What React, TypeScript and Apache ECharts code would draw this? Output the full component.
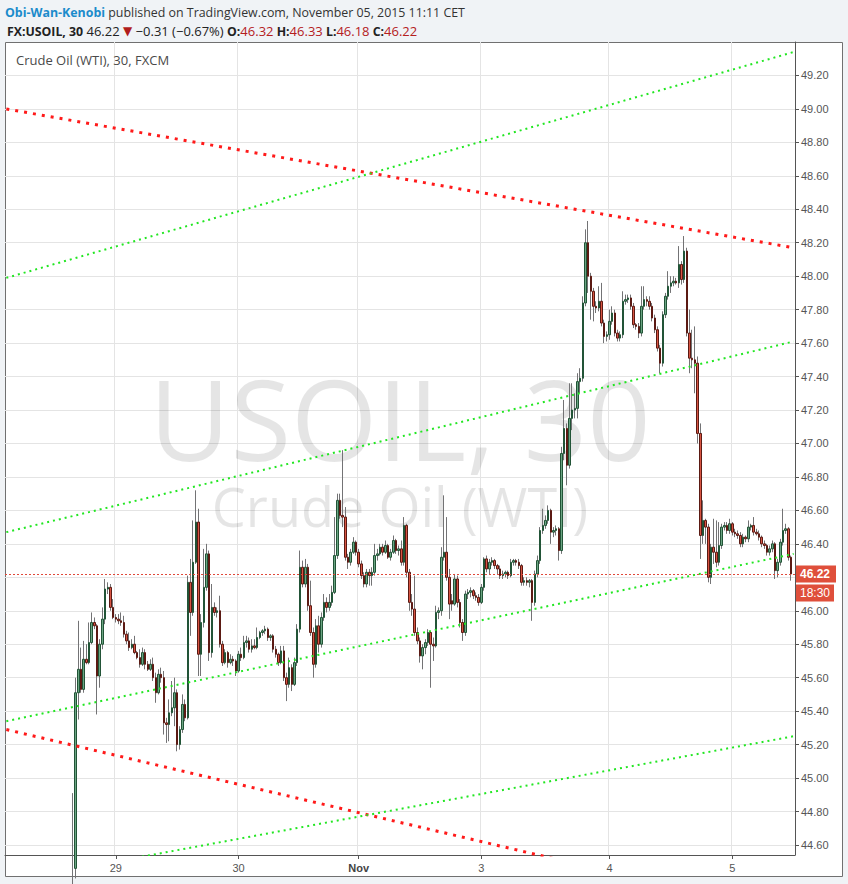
import React, { useEffect, useRef } from "react";
import * as echarts from "echarts";

// ---- Data: 30-minute candles, rows are [open, close, low, high] ----
const oct28 = [
  [44.50, 44.46, 44.30, 44.91], [44.46, 45.51, 44.40, 45.60], [45.51, 45.65, 45.35, 45.94], [45.65, 45.53, 45.51, 45.78],
  [45.53, 45.71, 45.51, 45.82], [45.71, 45.69, 45.68, 45.80], [45.69, 45.81, 45.68, 45.93], [45.81, 45.93, 45.80, 45.99],
  [45.93, 45.91, 45.89, 45.96], [45.91, 45.61, 45.38, 45.92], [45.61, 45.80, 45.54, 45.83], [45.80, 45.95, 45.77, 46.02],
  [45.95, 46.13, 45.92, 46.19], [46.13, 46.14, 46.10, 46.17], [46.14, 46.02, 46.00, 46.16], [46.02, 45.96, 45.95, 46.07],
];
const oct29 = [
  [45.96, 45.95, 45.93, 45.98], [45.95, 45.94, 45.92, 45.98], [45.94, 45.93, 45.91, 45.99], [45.93, 45.86, 45.84, 45.97],
  [45.86, 45.82, 45.80, 45.88], [45.82, 45.78, 45.76, 45.87], [45.78, 45.80, 45.77, 45.83], [45.80, 45.75, 45.74, 45.85],
  [45.75, 45.72, 45.71, 45.76], [45.72, 45.68, 45.66, 45.77], [45.68, 45.75, 45.67, 45.78], [45.75, 45.68, 45.65, 45.77],
  [45.68, 45.65, 45.64, 45.70], [45.65, 45.68, 45.64, 45.71], [45.68, 45.60, 45.58, 45.72], [45.60, 45.51, 45.45, 45.63],
  [45.51, 45.62, 45.50, 45.65], [45.62, 45.60, 45.57, 45.66], [45.60, 45.33, 45.26, 45.64], [45.33, 45.32, 45.21, 45.36],
  [45.32, 45.39, 45.22, 45.47], [45.39, 45.42, 45.37, 45.58], [45.42, 45.51, 45.31, 45.60], [45.51, 45.20, 45.16, 45.53],
  [45.20, 45.29, 45.17, 45.31], [45.29, 45.44, 45.27, 45.50], [45.44, 45.36, 45.34, 45.47], [45.36, 46.17, 45.35, 46.21],
  [46.17, 45.99, 45.85, 46.31], [45.99, 46.29, 45.97, 46.54], [46.29, 46.53, 46.28, 46.72], [46.53, 45.74, 45.61, 46.61],
  [45.74, 45.93, 45.61, 45.98], [45.93, 46.14, 45.90, 46.37], [46.14, 46.34, 46.12, 46.40], [46.34, 45.75, 45.70, 46.36],
  [45.75, 46.02, 45.72, 46.16], [46.02, 45.99, 45.97, 46.05], [45.99, 46.00, 45.96, 46.02], [46.00, 45.80, 45.78, 46.09],
  [45.80, 45.69, 45.67, 45.82], [45.69, 45.75, 45.68, 45.77], [45.75, 45.69, 45.66, 45.76], [45.69, 45.71, 45.68, 45.74],
  [45.71, 45.70, 45.67, 45.73], [45.70, 45.64, 45.61, 45.71],
];
const oct30 = [
  [45.64, 45.74, 45.63, 45.76], [45.74, 45.72, 45.70, 45.78], [45.72, 45.81, 45.71, 45.85], [45.81, 45.82, 45.78, 45.85],
  [45.82, 45.77, 45.75, 45.84], [45.77, 45.79, 45.75, 45.83], [45.79, 45.78, 45.77, 45.83], [45.78, 45.84, 45.77, 45.90],
  [45.84, 45.87, 45.83, 45.88], [45.87, 45.88, 45.85, 45.89], [45.88, 45.89, 45.86, 45.91], [45.89, 45.84, 45.82, 45.90],
  [45.84, 45.85, 45.82, 45.86], [45.85, 45.77, 45.75, 45.86], [45.77, 45.74, 45.72, 45.79], [45.74, 45.69, 45.67, 45.75],
  [45.69, 45.76, 45.68, 45.79], [45.76, 45.60, 45.58, 45.79], [45.60, 45.56, 45.46, 45.63], [45.56, 45.66, 45.54, 45.72],
  [45.66, 45.56, 45.52, 45.68], [45.56, 45.69, 45.55, 45.72], [45.69, 45.89, 45.67, 45.92], [45.89, 46.26, 45.87, 46.36],
  [46.26, 46.16, 46.14, 46.30], [46.16, 46.26, 46.14, 46.31], [46.26, 46.03, 46.00, 46.28], [46.03, 45.87, 45.85, 46.18],
  [45.87, 45.68, 45.60, 45.90], [45.68, 45.91, 45.66, 45.95], [45.91, 45.80, 45.75, 45.97], [45.80, 45.96, 45.78, 45.99],
  [45.96, 46.05, 45.94, 46.10], [46.05, 46.02, 45.99, 46.08], [46.02, 46.05, 46.00, 46.10], [46.05, 46.11, 46.03, 46.15],
  [46.11, 46.33, 46.10, 46.56], [46.33, 46.66, 46.31, 46.70], [46.66, 46.57, 46.55, 46.70], [46.57, 46.56, 46.50, 46.96],
  [46.56, 46.32, 46.30, 46.62], [46.32, 46.29, 46.25, 46.34], [46.29, 46.35, 46.27, 46.37], [46.35, 46.41, 46.34, 46.44],
  [46.41, 46.35, 46.33, 46.42],
];
const nov2 = [
  [46.35, 46.28, 46.26, 46.37], [46.28, 46.21, 46.19, 46.30], [46.21, 46.16, 46.14, 46.23], [46.16, 46.23, 46.14, 46.25],
  [46.23, 46.21, 46.15, 46.25], [46.21, 46.23, 46.15, 46.26], [46.23, 46.33, 46.21, 46.40], [46.33, 46.34, 46.30, 46.37],
  [46.34, 46.38, 46.33, 46.40], [46.38, 46.35, 46.33, 46.40], [46.35, 46.39, 46.34, 46.42], [46.39, 46.32, 46.31, 46.40],
  [46.32, 46.35, 46.30, 46.37], [46.35, 46.42, 46.34, 46.45], [46.42, 46.36, 46.34, 46.43], [46.36, 46.37, 46.33, 46.39],
  [46.37, 46.29, 46.27, 46.42], [46.29, 46.51, 46.27, 46.56], [46.51, 46.23, 46.20, 46.52], [46.23, 46.05, 46.00, 46.25],
  [46.05, 46.01, 45.97, 46.10], [46.01, 45.87, 45.85, 46.21], [45.87, 45.82, 45.80, 45.90], [45.82, 45.73, 45.69, 45.84],
  [45.73, 45.78, 45.65, 45.80], [45.78, 45.81, 45.74, 45.83], [45.81, 45.87, 45.79, 45.89], [45.87, 45.80, 45.54, 45.88],
  [45.80, 45.79, 45.70, 45.84], [45.79, 45.99, 45.78, 46.03], [45.99, 46.00, 45.95, 46.02], [46.00, 46.32, 45.97, 46.38],
  [46.32, 46.35, 46.30, 46.69], [46.35, 46.20, 46.18, 46.56], [46.20, 46.04, 45.95, 46.25], [46.06, 46.04, 46.00, 46.10],
  [46.04, 46.19, 46.03, 46.22], [46.19, 46.05, 46.02, 46.21], [46.05, 45.93, 45.90, 46.07], [45.93, 45.87, 45.82, 45.95],
  [45.87, 46.10, 45.85, 46.12], [46.10, 46.11, 46.07, 46.13], [46.11, 46.12, 46.08, 46.14], [46.12, 46.09, 46.07, 46.13],
  [46.09, 46.08, 46.06, 46.11], [46.08, 46.05, 46.03, 46.10],
];
const nov3 = [
  [46.05, 46.14, 46.04, 46.16], [46.14, 46.31, 46.12, 46.32], [46.31, 46.25, 46.23, 46.33], [46.25, 46.29, 46.22, 46.31],
  [46.29, 46.30, 46.27, 46.32], [46.30, 46.27, 46.25, 46.31], [46.27, 46.25, 46.22, 46.28], [46.25, 46.21, 46.19, 46.27],
  [46.21, 46.22, 46.19, 46.24], [46.22, 46.23, 46.20, 46.24], [46.23, 46.21, 46.19, 46.24], [46.21, 46.29, 46.20, 46.31],
  [46.29, 46.30, 46.27, 46.31], [46.30, 46.29, 46.27, 46.31], [46.29, 46.27, 46.25, 46.31], [46.27, 46.17, 46.15, 46.28],
  [46.17, 46.18, 46.15, 46.20], [46.18, 46.17, 46.15, 46.20], [46.17, 46.18, 46.14, 46.19], [46.18, 46.05, 45.94, 46.19],
  [46.05, 46.22, 46.03, 46.24], [46.22, 46.30, 46.20, 46.33], [46.30, 46.48, 46.28, 46.50], [46.48, 46.51, 46.46, 46.61],
  [46.51, 46.54, 46.49, 46.57], [46.54, 46.60, 46.52, 46.63], [46.60, 46.47, 46.40, 46.61], [46.47, 46.48, 46.44, 46.50],
  [46.48, 46.49, 46.45, 46.51], [46.49, 46.36, 46.30, 46.50], [46.36, 46.94, 46.34, 46.98], [46.94, 47.09, 46.90, 47.26],
  [47.09, 46.87, 46.75, 47.12], [46.87, 47.15, 46.85, 47.36], [47.15, 47.20, 47.08, 47.36], [47.20, 47.21, 47.15, 47.30],
  [47.21, 47.37, 47.15, 47.42], [47.37, 47.39, 47.30, 47.45], [47.39, 47.84, 47.37, 47.88], [47.84, 48.20, 47.82, 48.28],
  [48.20, 48.00, 47.90, 48.33], [48.00, 47.91, 47.74, 48.02], [47.91, 47.82, 47.73, 47.93], [47.82, 47.81, 47.78, 47.85],
  [47.81, 47.85, 47.79, 47.94], [47.85, 47.72, 47.70, 47.96], [47.72, 47.64, 47.60, 47.74], [47.64, 47.65, 47.61, 47.67],
];
const nov4 = [
  [47.65, 47.73, 47.62, 47.80], [47.73, 47.78, 47.71, 47.82], [47.78, 47.66, 47.64, 47.80], [47.66, 47.63, 47.61, 47.68],
  [47.63, 47.65, 47.61, 47.67], [47.65, 47.85, 47.63, 47.91], [47.85, 47.86, 47.83, 47.89], [47.86, 47.87, 47.84, 47.89],
  [47.87, 47.82, 47.80, 47.89], [47.82, 47.71, 47.69, 47.84], [47.71, 47.70, 47.68, 47.72], [47.70, 47.66, 47.63, 47.72],
  [47.66, 47.82, 47.64, 47.94], [47.82, 47.86, 47.80, 47.94], [47.86, 47.85, 47.82, 47.88], [47.85, 47.82, 47.80, 47.88],
  [47.82, 47.75, 47.73, 47.84], [47.75, 47.68, 47.66, 47.77], [47.68, 47.57, 47.55, 47.70], [47.57, 47.48, 47.42, 47.59],
  [47.48, 47.77, 47.46, 47.79], [47.77, 47.88, 47.75, 47.90], [47.88, 47.94, 47.86, 48.03], [47.94, 47.96, 47.90, 48.00],
  [47.96, 47.97, 47.94, 48.00], [47.97, 47.96, 47.95, 47.99], [47.96, 48.07, 47.93, 48.18], [48.07, 47.98, 47.95, 48.09],
  [47.98, 48.15, 47.96, 48.24], [48.15, 47.66, 47.64, 48.17], [47.66, 47.51, 47.42, 47.80], [47.51, 47.50, 47.45, 47.68],
  [47.50, 47.48, 47.30, 47.70], [47.48, 47.06, 47.00, 47.52], [47.06, 46.45, 46.31, 47.12], [46.45, 46.54, 46.40, 46.66],
  [46.54, 46.50, 46.40, 46.55], [46.50, 46.20, 46.17, 46.52], [46.20, 46.38, 46.16, 46.40], [46.38, 46.35, 46.28, 46.55],
  [46.35, 46.29, 46.26, 46.54], [46.29, 46.39, 46.27, 46.53], [46.39, 46.50, 46.37, 46.52], [46.50, 46.51, 46.48, 46.53],
  [46.51, 46.48, 46.46, 46.53], [46.48, 46.52, 46.46, 46.55],
];
const nov5 = [
  [46.52, 46.47, 46.45, 46.53], [46.47, 46.46, 46.44, 46.49], [46.46, 46.45, 46.43, 46.48], [46.45, 46.40, 46.38, 46.47],
  [46.40, 46.44, 46.38, 46.46], [46.44, 46.43, 46.41, 46.45], [46.43, 46.50, 46.41, 46.54], [46.50, 46.51, 46.48, 46.52],
  [46.51, 46.47, 46.45, 46.56], [46.47, 46.46, 46.45, 46.49], [46.46, 46.44, 46.42, 46.48], [46.44, 46.40, 46.38, 46.45],
  [46.40, 46.39, 46.37, 46.42], [46.39, 46.35, 46.33, 46.40], [46.35, 46.37, 46.33, 46.39], [46.37, 46.40, 46.35, 46.42],
  [46.40, 46.24, 46.19, 46.41], [46.24, 46.29, 46.20, 46.31], [46.29, 46.41, 46.27, 46.43], [46.41, 46.48, 46.39, 46.61],
  [46.48, 46.49, 46.46, 46.52], [46.49, 46.32, 46.30, 46.50], [46.32, 46.22, 46.18, 46.33],
];

// x-axis day labels and the candle index where each day starts
const dayLabels = ["29", "30", "Nov", "3", "4", "5"];
const dayStarts = [16, 62, 107, 153, 201, 247];

// y-axis ticks (grid lines) and the labels that are visible (46.20 sits under the price tag)
const yTicks = [44.6, 44.8, 45.0, 45.2, 45.4, 45.6, 45.8, 46.0, 46.2, 46.4, 46.6, 46.8, 47.0, 47.2, 47.4, 47.6, 47.8, 48.0, 48.2, 48.4, 48.6, 48.8, 49.0, 49.2];
const yLabels = [44.6, 44.8, 45.0, 45.2, 45.4, 45.6, 45.8, 46.0, 46.4, 46.6, 46.8, 47.0, 47.2, 47.4, 47.6, 47.8, 48.0, 48.2, 48.4, 48.6, 48.8, 49.0, 49.2];
const yMin = 44.54;
const yMax = 49.4;

// Drawn trend lines: price at the left edge and at the right edge of the chart
const redUpper = [49.0, 48.17];
const redLower = [45.29, 44.18];
const greenFan1 = [47.99, 49.34];
const greenFan2 = [46.47, 47.61];
const greenFan3 = [45.34, 46.34];
const greenFan4 = [44.38, 45.25];

const lastPrice = 46.22;
const lastTime = "18:30";
const changeText = "\u22120.31 (\u22120.67%)";

const EMPTY_BEFORE = 25; // empty slots to the left of the first candle
const EMPTY_AFTER = 1;

const AXIS_FONT = "'Liberation Sans', Arial, sans-serif";
const UI_FONT = "'Open Sans', 'Liberation Sans', sans-serif";

export default function App() {
  const ref = useRef<HTMLDivElement>(null);

  useEffect(() => {
    if (!ref.current) return;
    const chart = echarts.init(ref.current, null, { renderer: "svg" });

    const candles = [...oct28, ...oct29, ...oct30, ...nov2, ...nov3, ...nov4, ...nov5];
    const N = EMPTY_BEFORE + candles.length + EMPTY_AFTER;
    const categories = Array.from({ length: N }, (_, k) => String(k));
    const labelAt = new Map<number, string>();
    dayStarts.forEach((d, j) => labelAt.set(d + EMPTY_BEFORE, dayLabels[j]));
    const isDay = (index: number) => labelAt.has(index);

    const wickData = candles.map((r, i) => [i + EMPTY_BEFORE, r[0], r[1], r[2], r[3]]);
    const bodyData = candles.map((r, i) => [
      i + EMPTY_BEFORE, r[0], r[1], Math.min(r[0], r[1]), Math.max(r[0], r[1]),
    ]);

    const last = candles[candles.length - 1];
    const fmt = (v: number) => v.toFixed(2);

    const trend = (vals: number[], color: string, width: number, dash: number[]) => ({
      type: "line",
      data: [[0, vals[0]], [N - 1, vals[1]]],
      symbol: "none",
      silent: true,
      z: 5,
      clip: true,
      lineStyle: { color, width, type: dash, cap: "butt" },
    });

    const RED = "#ff1a1a";
    const GREEN = "#22e622";

    const tok = (extra: any) => ({ fontSize: 13, fontFamily: UI_FONT, lineHeight: 18, fontWeight: "normal", ...extra });

    const option: any = {
      animation: false,
      backgroundColor: "#f0f3f6",
      title: [
        {
          left: 5, top: 3, padding: 0,
          text: `{u|Obi-Wan-Kenobi}{t| published on TradingView.com, November 05, 2015 11:11 CET}`,
          textStyle: {
            fontWeight: "normal", fontSize: 12.4, fontFamily: UI_FONT,
            rich: {
              u: tok({ color: "#1b8bcb", fontWeight: "bold", fontSize: 12.4 }),
              t: tok({ color: "#333333", fontSize: 12.4 }),
            },
          },
        },
        {
          left: 7, top: 22, padding: 0,
          text:
            `{b|FX:USOIL, 30}{t| ${fmt(last[1])} }{r|\u25BC}{t| ${changeText} }` +
            `{b|O:}{v|${fmt(last[0])}}{b| H:}{v|${fmt(last[3])}}{b| L:}{v|${fmt(last[2])}}{b| C:}{v|${fmt(last[1])}}`,
          textStyle: {
            fontWeight: "normal", fontSize: 13, fontFamily: UI_FONT,
            rich: {
              b: tok({ color: "#222222", fontWeight: "bold", fontSize: 12.3 }),
              t: tok({ color: "#222222" }),
              r: tok({ color: "#b01c1c", fontSize: 12, fontFamily: "'DejaVu Sans', sans-serif" }),
              v: tok({ color: "#b5201d" }),
            },
          },
        },
      ],
      graphic: [
        {
          type: "rect", silent: true, z: -10,
          shape: { x: 5.5, y: 42.5, width: 837, height: 834 },
          style: { fill: "#ffffff", stroke: "#707070", lineWidth: 1 },
        },
        {
          type: "text", silent: true, z: 1, x: 400, y: 418,
          style: {
            text: "USOIL, 30", fill: "rgba(0,0,0,0.1)", fontSize: 111, fontFamily: UI_FONT,
            lineHeight: 84,
            textAlign: "center", textVerticalAlign: "middle", verticalAlign: "middle",
          },
        },
        {
          type: "text", silent: true, z: 1, x: 400, y: 506,
          style: {
            text: "Crude Oil (WTI)", fill: "rgba(0,0,0,0.1)", fontSize: 54, fontFamily: UI_FONT,
            lineHeight: 52,
            textAlign: "center", textVerticalAlign: "middle", verticalAlign: "middle",
          },
        },
        {
          type: "text", silent: true, z: 6, x: 16, y: 60,
          style: {
            text: "Crude Oil (WTI), 30, FXCM", fill: "#4a4a4a", fontSize: 13, fontFamily: UI_FONT,
            textAlign: "left", textVerticalAlign: "middle", verticalAlign: "middle",
          },
        },
      ],
      grid: { left: 5, right: 53, top: 42, bottom: 29, containLabel: false, outerBoundsMode: "none" },
      xAxis: {
        type: "category",
        data: categories,
        boundaryGap: true,
        axisLine: { show: true, lineStyle: { color: "#555555", width: 1 } },
        axisTick: { show: true, alignWithLabel: true, interval: isDay, length: 4, lineStyle: { color: "#555555" } },
        axisLabel: {
          interval: isDay,
          margin: 7,
          color: "#555555",
          fontSize: 11,
          fontFamily: AXIS_FONT,
          formatter: (value: string) => {
            const l = labelAt.get(Number(value)) ?? "";
            return l === "Nov" ? "{n|Nov}" : l;
          },
          rich: { n: { fontWeight: "bold", color: "#444444", fontSize: 11, fontFamily: AXIS_FONT } },
        },
        splitLine: { show: true, interval: isDay, lineStyle: { color: "#e4e4e4", width: 1 } },
      },
      yAxis: {
        type: "value",
        position: "right",
        min: yMin,
        max: yMax,
        axisLine: { show: true, lineStyle: { color: "#555555", width: 1 } },
        axisTick: { show: true, length: 4, lineStyle: { color: "#555555" }, customValues: yTicks },
        axisLabel: {
          color: "#555555", fontSize: 11, fontFamily: AXIS_FONT, margin: 6,
          customValues: yLabels,
          formatter: (v: number) => v.toFixed(2),
        },
        splitLine: { show: true, lineStyle: { color: "#e4e4e4", width: 1 } },
      },
      series: [
        {
          type: "candlestick",
          name: "wick",
          data: wickData,
          encode: { x: 0, y: [1, 2, 3, 4] },
          barWidth: 1,
          z: 2,
          silent: true,
          itemStyle: {
            color: "#737375", color0: "#737375",
            borderColor: "#737375", borderColor0: "#737375", borderColorDoji: "#737375", borderWidth: 1,
          },
        },
        {
          type: "candlestick",
          name: "USOIL",
          data: bodyData,
          encode: { x: 0, y: [1, 2, 3, 4] },
          barWidth: 2,
          z: 3,
          silent: true,
          itemStyle: {
            color: "#6ba583", color0: "#d75442",
            borderColor: "#225437", borderColor0: "#5b1a13", borderWidth: 1,
          },
          markLine: {
            silent: true,
            symbol: ["none", "none"],
            lineStyle: { color: "#e0493a", type: [2, 2], width: 1 },
            label: {
              show: true,
              position: "end",
              distance: 1,
              formatter: `{e| }\n{a|${fmt(lastPrice)}}\n{b|${lastTime}}`,
              rich: {
                e: { fontSize: 1, lineHeight: 19, height: 17 },
                a: {
                  backgroundColor: "#df4f3b", color: "#ffffff", fontSize: 12, fontWeight: "bold",
                  fontFamily: AXIS_FONT, padding: [0, 4, 0, 4], width: 32, height: 17, lineHeight: 19, align: "left",
                },
                b: {
                  backgroundColor: "#df4f3b", color: "#ffffff", fontSize: 12,
                  fontFamily: AXIS_FONT, padding: [0, 4, 0, 4], width: 30, height: 17, lineHeight: 19, align: "left",
                },
              },
            },
            data: [{ yAxis: lastPrice }],
          },
        },
        trend(redUpper, RED, 3, [3, 6]),
        trend(redLower, RED, 3, [3, 6]),
        trend(greenFan1, GREEN, 2, [2, 4]),
        trend(greenFan2, GREEN, 2, [2, 4]),
        trend(greenFan3, GREEN, 2, [2, 4]),
        trend(greenFan4, GREEN, 2, [2, 4]),
      ],
    };

    chart.setOption(option);
    return () => chart.dispose();
  }, []);

  return (
    <div
      ref={ref}
      style={{ position: "absolute", left: 0, top: 0, width: 848, height: 884 }}
    />
  );
}
